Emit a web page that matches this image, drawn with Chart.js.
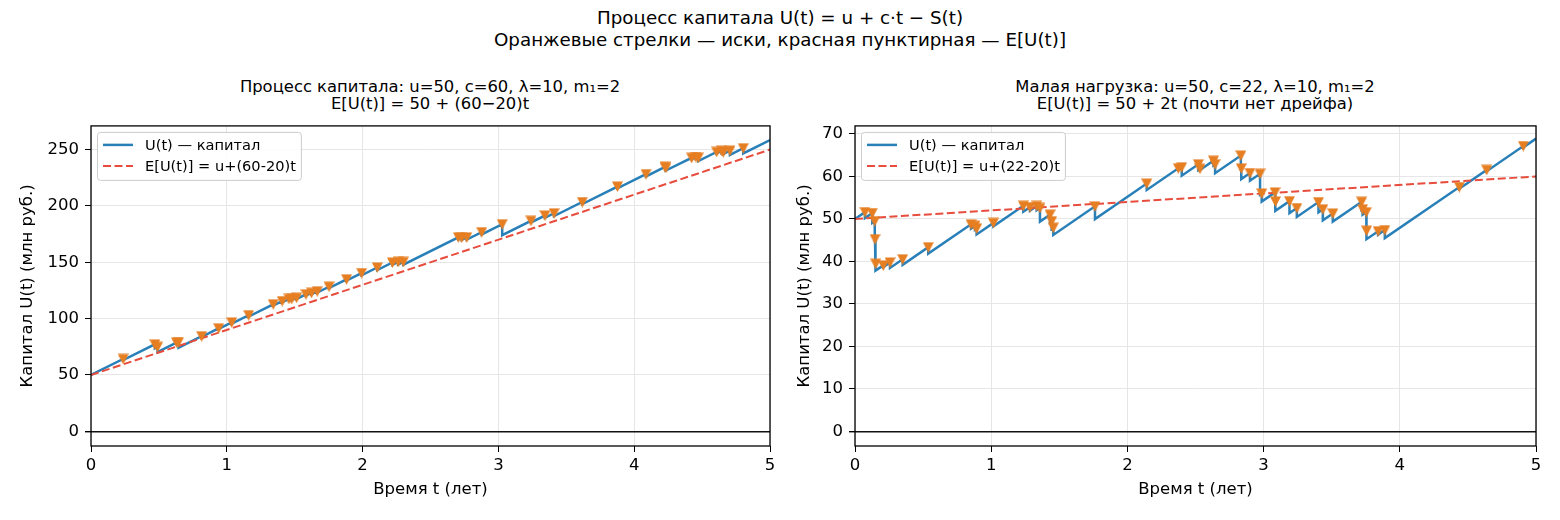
<!DOCTYPE html>
<html>
<head>
<meta charset="utf-8">
<script src="https://cdn.jsdelivr.net/npm/chart.js@4.4.1/dist/chart.umd.min.js"></script>
<style>
  body { margin: 0; background: #fff; font-family: "DejaVu Sans", sans-serif; }
  #fig { position: relative; width: 1560px; height: 520px; overflow: hidden; background: #fff; }
  .t { position: absolute; white-space: nowrap; transform: translate(-50%, -50%); color: #000; line-height: 1; }
  canvas { position: absolute; }
</style>
</head>
<body>
<div id="fig">
  <div class="t" style="left:780px;top:18px;font-size:18.3px">Процесс капитала U(t) = u + c·t − S(t)</div>
  <div class="t" style="left:780px;top:40px;font-size:18.3px">Оранжевые стрелки — иски, красная пунктирная — E[U(t)]</div>

  <div class="t" style="left:430px;top:87px;font-size:16.4px">Процесс капитала: u=50, c=60, λ=10, m₁=2</div>
  <div class="t" style="left:430px;top:104px;font-size:16.4px">E[U(t)] = 50 + (60−20)t</div>
  <div class="t" style="left:1195px;top:87px;font-size:16.4px">Малая нагрузка: u=50, c=22, λ=10, m₁=2</div>
  <div class="t" style="left:1195px;top:104px;font-size:16.4px">E[U(t)] = 50 + 2t (почти нет дрейфа)</div>

  <canvas id="chartL" width="790" height="410" style="left:0;top:110px"></canvas>
  <canvas id="chartR" width="770" height="410" style="left:790px;top:110px"></canvas>
</div>

<script>
// ---- data ----
const timeTicks = [0, 1, 2, 3, 4, 5];
const yTicksLeft = [0, 50, 100, 150, 200, 250];
const yTicksRight = [0, 10, 20, 30, 40, 50, 60, 70];

// left: u=50, c=60, lambda*m1=20
const uLeft = 50, cLeft = 60, driftLeft = 40;
const claimTimesLeft = [0.237, 0.47, 0.49, 0.63, 0.645, 0.815, 0.94,
  1.036, 1.161, 1.342, 1.408, 1.458, 1.478, 1.514, 1.583, 1.624, 1.666, 1.753, 1.882,
  1.993, 2.108, 2.22, 2.262, 2.30, 2.705, 2.73, 2.767, 2.877,
  3.028, 3.24, 3.343, 3.41, 3.618,
  3.877, 4.087, 4.227, 4.234, 4.423, 4.455, 4.472, 4.607, 4.644, 4.656, 4.705, 4.803];
const claimSizesLeft = [1, 3.5, 4.5, 0.5, 5, 0.5, 0.5,
  1.1, 1.2, 1.1, 1.1, 1.1, 1.2, 1.1, 1.1, 1.2, 1.1, 1.2, 1.1,
  2, 2.3, 2, 2.2, 2.5, 1.8, 2, 2, 2,
  9.7, 1.5, 2, 2.5, 1.8,
  1.6, 2, 1.2, 2.5, 1.3, 1.5, 3, 1.2, 2, 1.5, 3.8, 4.6];

// right: u=50, c=22, lambda*m1=20
const uRight = 50, cRight = 22, driftRight = 2;
const claimTimesRight = [0.073, 0.127, 0.145, 0.147, 0.152, 0.208, 0.257, 0.35, 0.538,
  0.852, 0.881, 0.893, 1.016, 1.236, 1.285, 1.334, 1.358, 1.432, 1.444, 1.456,
  1.762, 2.142, 2.374, 2.399, 2.521, 2.533, 2.632, 2.644, 2.833, 2.836, 2.9,
  2.974, 2.986, 3.084, 3.087, 3.19, 3.244, 3.403, 3.435, 3.508,
  3.72, 3.727, 3.754, 3.756, 3.841, 3.89, 4.437, 4.638, 4.907];
const claimSizesRight = [1.4, 2.3, 4.3, 5.9, 1.6, 0.4, 1.3, 1.3, 1.5,
  1.0, 0.9, 1.4, 0.8, 1.4, 0.8, 1.0, 3.2, 1.8, 1.8, 1.7,
  3.0, 1.5, 0.3, 2.0, 1.3, 0.3, 1.1, 2.1, 3.1, 2.5, 1.8,
  4.9, 1.9, 2.2, 2.2, 2.8, 2.1, 2.4, 2.6, 1.9,
  1.9, 1.3, 4.4, 2.0, 0.8, 1.9, 0.4, 0.3, 0.3];

const tEnd = 5;

// build U(t) path (jump at each claim) and claim markers at the pre-claim level
function buildPath(u, c, times, sizes) {
  let path = [{ x: 0, y: u }];
  let marks = [];
  let s = 0;
  for (let i = 0; i < times.length; i++) {
    let t = times[i];
    let before = u + c * t - s;
    path.push({ x: t, y: before });
    marks.push({ x: t, y: before });
    s += sizes[i];
    path.push({ x: t, y: u + c * t - s });
  }
  path.push({ x: tEnd, y: u + c * tEnd - s });
  return { path, marks };
}

// downward triangle marker, centred on its box like matplotlib's "v"
function makeTriangle(size, color) {
  const cv = document.createElement('canvas');
  cv.width = size; cv.height = size;
  const g = cv.getContext('2d');
  g.fillStyle = color;
  g.beginPath();
  g.moveTo(0, 0.5);
  g.lineTo(size, 0.5);
  g.lineTo(size / 2, size);
  g.closePath();
  g.fill();
  return cv;
}
const claimMarker = makeTriangle(11, '#e67e22');

Chart.defaults.font.family = '"DejaVu Sans", sans-serif';
Chart.defaults.color = '#000';

const framePlugin = {
  id: 'frame',
  afterDraw(chart) {
    const { ctx, chartArea: a } = chart;
    ctx.save();
    ctx.strokeStyle = '#000';
    ctx.lineWidth = 1.3;
    ctx.strokeRect(a.left, a.top, a.right - a.left, a.bottom - a.top);
    ctx.restore();
  }
};

const legendPlugin = {
  id: 'insideLegend',
  afterDraw(chart) {
    const { ctx, chartArea: a } = chart;
    const items = chart.data.datasets.filter(d => d.inLegend);
    ctx.save();
    ctx.font = '14.6px "DejaVu Sans"';
    let w = 0;
    items.forEach(d => { w = Math.max(w, ctx.measureText(d.label).width); });
    const x0 = a.left + 6, y0 = a.top + 6;
    const bw = 6 + 30 + 12 + w + 5, bh = 48;
    ctx.fillStyle = 'rgba(255,255,255,0.85)';
    ctx.strokeStyle = '#cccccc';
    ctx.lineWidth = 1;
    ctx.beginPath();
    ctx.roundRect(x0 + 0.5, y0 + 0.5, bw, bh, 3);
    ctx.fill();
    ctx.stroke();
    items.forEach((d, i) => {
      const yy = y0 + 13 + i * 21;
      ctx.strokeStyle = d.borderColor;
      ctx.lineWidth = d.borderWidth;
      ctx.setLineDash(d.borderDash || []);
      ctx.beginPath();
      ctx.moveTo(x0 + 6, yy);
      ctx.lineTo(x0 + 36, yy);
      ctx.stroke();
      ctx.setLineDash([]);
      ctx.fillStyle = '#000';
      ctx.textBaseline = 'middle';
      ctx.fillText(d.label, x0 + 48, yy + 1);
    });
    ctx.restore();
  }
};

function makeChart(id, cfg) {
  const built = buildPath(cfg.u, cfg.c, cfg.times, cfg.sizes);
  const expected = [{ x: 0, y: cfg.u }, { x: tEnd, y: cfg.u + cfg.drift * tEnd }];
  return new Chart(document.getElementById(id), {
    type: 'scatter',
    data: {
      datasets: [
        {
          label: 'U(t) — капитал', inLegend: true,
          data: built.path, showLine: true, pointRadius: 0,
          borderColor: '#2980b9', borderWidth: 2.5, order: 3
        },
        {
          label: cfg.expLabel, inLegend: true,
          data: expected, showLine: true, pointRadius: 0,
          borderColor: '#e74c3c', borderWidth: 2, borderDash: [8, 3.5], order: 2
        },
        {
          label: 'иски', inLegend: false,
          data: built.marks, showLine: false,
          pointStyle: claimMarker, pointRadius: 6, order: 1
        }
      ]
    },
    options: {
      responsive: false,
      animation: false,
      layout: { padding: { top: 12, right: cfg.padRight, left: 0, bottom: 0 } },
      plugins: { legend: { display: false }, tooltip: { enabled: false } },
      scales: {
        x: {
          type: 'linear', min: 0, max: tEnd,
          afterBuildTicks: s => { s.ticks = timeTicks.map(v => ({ value: v })); },
          afterFit: s => { s.height = 74; },
          border: { display: false },
          grid: { color: '#e6e6e6', lineWidth: 1, tickColor: '#000', tickLength: 6 },
          ticks: { font: { size: 16.5 }, padding: 4, maxRotation: 0 },
          title: { display: true, text: 'Время t (лет)', font: { size: 16.5 }, padding: { top: 0, bottom: 20 } }
        },
        y: {
          type: 'linear', min: cfg.yMin, max: cfg.yMax,
          afterBuildTicks: s => { s.ticks = cfg.yTicks.map(v => ({ value: v })); },
          afterFit: s => { s.width = cfg.yWidth; },
          border: { display: false },
          grid: {
            color: c => (c.tick && c.tick.value === 0) ? '#111' : '#e6e6e6',
            lineWidth: c => (c.tick && c.tick.value === 0) ? 1.4 : 1,
            tickColor: '#000', tickLength: 6
          },
          ticks: { font: { size: 16.5 }, padding: 6 },
          title: { display: true, text: 'Капитал U(t) (млн руб.)', font: { size: 16.5 }, padding: { top: cfg.titlePad, bottom: 0 } }
        }
      }
    },
    plugins: [framePlugin, legendPlugin]
  });
}

makeChart('chartL', {
  u: uLeft, c: cLeft, drift: driftLeft, times: claimTimesLeft, sizes: claimSizesLeft,
  expLabel: 'E[U(t)] = u+(60-20)t', yMin: -13, yMax: 271, yTicks: yTicksLeft,
  yWidth: 91, padRight: 20, titlePad: 18
});
makeChart('chartR', {
  u: uRight, c: cRight, drift: driftRight, times: claimTimesRight, sizes: claimSizesRight,
  expLabel: 'E[U(t)] = u+(22-20)t', yMin: -3.45, yMax: 71.9, yTicks: yTicksRight,
  yWidth: 65, padRight: 24, titlePad: 5
});
</script>
</body>
</html>
